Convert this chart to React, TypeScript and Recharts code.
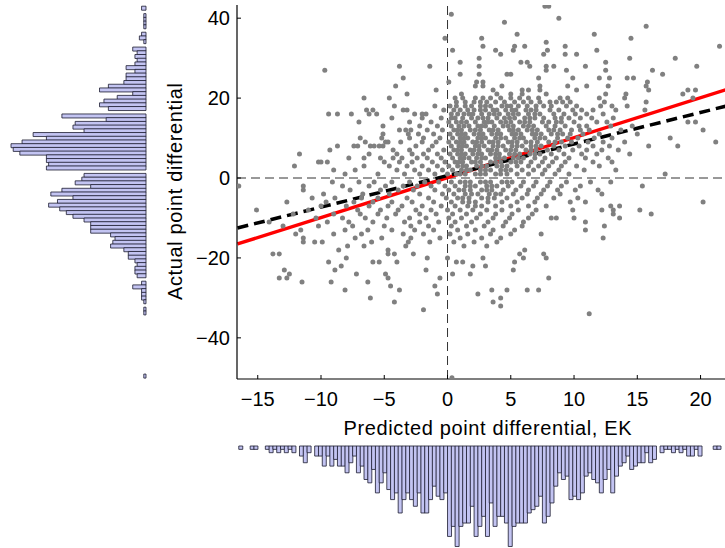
import { ScatterChart, Scatter, XAxis, YAxis, ReferenceLine, BarChart, Bar } from 'recharts'

// actual point differential (y) -> predicted values (x) of the games at that y
const scatterRows: [number, number[]][] = [
  [43, [7.7, 8.0]],
  [41, [0.3]],
  [40, [8.8]],
  [39, [4.5]],
  [38, [15.7]],
  [36, [5.5, 11.6]],
  [35, [-0.2, 2.7, 14.5]],
  [34, [7.8]],
  [33, [2.8, 5.3, 6.1, 9.3, 21.5]],
  [32, [0.4, 3.8, 5.2, 7.9, 11.8]],
  [31, [4.2, 7.6, 9.3, 10.2]],
  [30, [2.5, 14.4, 18.0]],
  [29, [1.0, 5.8, 6.3, 12.5]],
  [28, [-3.8, -1.4, 2.5, 6.5, 7.8, 8.4, 10.9, 19.7]],
  [27, [-9.7, 7.8, 9.4, 12.5, 16.2]],
  [26, [1.0, 2.5, 4.7, 5.0, 17.0]],
  [25, [-3.5, 7.2, 9.9, 12.0, 12.8, 14.2, 14.7]],
  [24, [0.1, 2.3, 2.8, 15.8]],
  [23, [-4.1, 2.2, 2.8, 4.3, 7.3, 9.5, 11.0, 12.7, 15.7]],
  [22, [-0.9, 3.6, 5.9, 6.4, 7.3, 10.2, 15.9, 19.0, 19.6]],
  [21, [-3.2, 1.1, 3.9, 5.0, 5.9, 7.8, 12.5, 14.1, 18.6]],
  [20, [-6.6, -4.6, 0.6, 1.2, 2.2, 2.8, 3.4, 4.2, 5.0, 5.7, 6.4, 7.2, 8.9, 9.5, 12.0, 14.0, 19.4]],
  [19, [0.7, 1.4, 2.1, 2.6, 3.1, 3.8, 4.5, 5.3, 6.0, 6.6, 7.3, 8.1, 8.6, 9.1, 9.7, 12.4, 15.7]],
  [18, [-4.2, -1.0, 0.2, 0.7, 1.4, 1.9, 2.6, 3.0, 3.4, 4.3, 4.7, 5.0, 5.6, 6.3, 7.0, 7.6, 8.2, 9.4, 10.2, 12.1, 13.0, 14.2]],
  [17, [-6.4, -5.9, -3.5, -3.2, -0.3, 0.5, 1.0, 1.6, 2.1, 2.6, 3.0, 3.6, 3.9, 4.6, 5.1, 5.4, 6.2, 6.6, 7.0, 8.1, 8.8, 9.9, 10.6, 11.5, 13.3, 15.6]],
  [16, [-9.4, -8.7, -7.6, -6.2, -5.6, -2.6, -2.0, -1.7, 0.3, 0.8, 1.3, 1.7, 2.0, 2.7, 3.3, 3.7, 4.1, 4.8, 5.2, 5.6, 6.4, 6.9, 7.3, 8.4, 9.2, 10.1, 11.0, 12.3]],
  [15, [-4.4, -2.0, -0.5, 0.3, 0.6, 1.2, 1.9, 2.4, 2.8, 3.2, 3.9, 4.5, 4.9, 5.3, 6.1, 6.5, 6.9, 7.6, 8.5, 9.0, 9.6, 10.5, 11.4, 13.1]],
  [14, [-7.0, -3.0, -1.3, 0.1, 0.7, 1.1, 1.5, 2.2, 2.9, 3.2, 3.5, 4.2, 4.6, 5.0, 5.7, 6.1, 6.5, 7.5, 8.0, 8.6, 9.0, 10.0, 11.8, 12.6, 19.0, 19.6]],
  [13, [-5.1, -2.2, -0.8, 0.3, 0.9, 1.3, 1.7, 2.4, 2.7, 3.0, 3.7, 4.4, 4.8, 5.2, 6.0, 6.4, 6.8, 7.8, 8.5, 9.3, 10.4, 11.0, 12.9, 14.6]],
  [12, [-3.8, -3.3, -2.9, -1.6, -0.4, 0.5, 0.8, 1.1, 1.8, 2.2, 2.6, 3.3, 3.6, 4.0, 4.9, 5.2, 5.6, 6.3, 6.7, 7.1, 8.0, 8.4, 8.9, 9.8, 10.5, 11.2, 13.7, 20.2]],
  [11, [-5.1, -3.1, -2.3, -1.1, 0.2, 0.8, 1.1, 1.4, 2.1, 2.5, 2.8, 3.5, 3.9, 4.2, 5.1, 5.4, 5.8, 6.7, 7.0, 7.4, 8.2, 8.7, 9.1, 9.7, 10.7, 12.0, 15.0]],
  [10, [-6.9, -5.2, -3.0, -1.9, -0.6, 0.4, 1.0, 1.3, 1.6, 2.4, 2.7, 3.0, 3.8, 4.2, 4.6, 5.3, 5.7, 6.0, 6.9, 7.3, 7.7, 8.7, 9.5, 10.3, 11.6, 13.0, 17.6]],
  [9, [-6.5, -4.9, -4.7, -3.7, -2.0, -0.9, 0.1, 0.7, 1.0, 1.3, 2.0, 2.3, 2.7, 3.3, 3.6, 4.0, 4.8, 5.1, 5.5, 6.2, 6.6, 7.1, 8.0, 8.5, 9.0, 9.8, 11.1, 12.3, 14.0, 21.2]],
  [8, [-8.7, -7.4, -7.1, -6.1, -5.8, -5.4, -5.1, -2.5, -1.2, 0.3, 0.9, 1.2, 1.5, 2.2, 2.5, 2.9, 3.6, 4.0, 4.4, 5.1, 5.5, 5.9, 6.6, 7.0, 7.4, 8.4, 9.3, 10.4, 11.5, 12.8, 15.9, 18.2]],
  [7, [-9.3, -4.3, -3.0, -1.5, -0.3, 0.5, 0.8, 1.1, 1.8, 2.1, 2.5, 3.2, 3.5, 3.9, 4.6, 5.0, 5.4, 6.2, 6.6, 7.0, 7.9, 8.8, 9.9, 11.0, 12.2, 13.5]],
  [6, [-11.7, -6.2, -4.0, -2.8, -1.9, -0.8, 0.2, 0.8, 1.1, 1.4, 2.0, 2.4, 2.7, 3.4, 3.8, 4.1, 4.9, 5.3, 5.7, 6.5, 6.9, 7.3, 8.2, 9.2, 10.6, 11.8, 14.4]],
  [5, [-7.8, -6.6, -5.3, -4.3, -3.6, -2.4, -1.6, -0.5, 0.4, 1.0, 1.3, 1.7, 2.3, 2.7, 3.0, 3.8, 4.1, 4.5, 5.2, 5.6, 6.0, 6.9, 7.7, 8.6, 9.6, 10.9, 12.7]],
  [4, [-10.2, -10.0, -9.5, -5.0, -3.8, -2.8, -1.2, -0.2, 0.6, 0.9, 1.2, 1.9, 2.2, 2.6, 3.4, 3.8, 4.2, 5.0, 5.4, 5.8, 6.6, 7.5, 8.3, 9.3, 11.5, 13.0]],
  [3, [-12.1, -6.6, -4.6, -3.2, -2.0, -0.8, 0.1, 0.8, 1.2, 1.5, 2.3, 2.7, 3.1, 3.9, 4.3, 4.7, 5.5, 6.4, 7.2, 8.0, 9.0, 10.2, 12.0]],
  [2, [-9.0, -7.3, -4.0, -2.6, -1.5, -0.4, 0.4, 1.1, 1.5, 1.8, 2.6, 3.0, 3.4, 4.2, 4.6, 5.0, 5.9, 6.8, 7.7, 8.8, 10.8, 13.3]],
  [1, [-8.1, -5.5, -3.4, -2.2, -1.0, 0.0, 0.7, 1.0, 1.4, 2.2, 2.6, 3.0, 3.8, 4.2, 4.7, 5.5, 6.4, 7.5, 8.5, 9.6, 17.2]],
  [-1, [-9.1, -7.0, -5.8, -4.4, -3.0, -1.8, -0.7, 0.3, 1.0, 1.4, 1.8, 2.6, 3.0, 3.4, 4.3, 4.7, 5.1, 6.0, 7.0, 8.1, 9.4, 11.3, 12.9]],
  [-2, [-16.5, -11.4, -8.3, -6.2, -4.9, -3.5, -2.4, -1.3, -0.2, 0.6, 1.4, 1.8, 2.2, 3.1, 3.5, 3.9, 4.8, 5.8, 6.8, 7.9, 9.0, 10.5, 15.4]],
  [-3, [-11.4, -7.7, -5.3, -3.9, -2.7, -1.0, 0.1, 0.9, 1.3, 1.8, 2.7, 3.1, 3.5, 4.4, 5.4, 6.4, 7.6, 8.7, 10.1, 11.9]],
  [-4, [-9.8, -6.7, -4.6, -2.2, -0.4, 0.5, 1.4, 1.9, 2.4, 3.3, 3.8, 4.2, 5.2, 6.3, 7.4, 8.9, 12.2]],
  [-5, [-10.7, -8.9, -6.8, -5.5, -3.2, -1.5, -0.1, 0.8, 1.2, 1.7, 2.7, 3.2, 3.7, 4.7, 5.9, 7.1, 8.4, 10.3]],
  [-6, [-12.7, -9.6, -7.4, -5.9, -4.4, -2.8, -1.1, 0.3, 1.2, 1.7, 2.2, 3.2, 4.3, 5.5, 6.9, 9.7, 10.9, 20.2]],
  [-7, [-10.0, -8.0, -6.2, -4.7, -3.6, -2.0, -0.5, 0.6, 1.6, 2.2, 2.7, 3.8, 5.0, 6.4, 7.8, 12.9, 13.6]],
  [-8, [-15.1, -11.0, -7.1, -5.3, -3.9, -2.5, -1.3, 0.0, 1.0, 2.0, 3.1, 4.3, 5.6, 7.0, 9.9, 12.2, 13.1, 15.2]],
  [-9, [-12.2, -9.0, -6.9, -5.5, -4.1, -2.2, -0.9, 0.4, 1.5, 2.6, 3.8, 5.1, 6.7, 13.1, 16.1]],
  [-10, [-10.4, -8.3, -6.5, -4.8, -3.0, -1.7, 0.1, 1.1, 2.3, 3.6, 4.9, 6.4, 8.2, 8.6, 10.0, 13.6]],
  [-11, [-14.1, -9.5, -7.8, -5.9, -3.4, -2.2, -0.7, 0.6, 1.9, 3.2, 4.6, 6.0, 10.9]],
  [-12, [-13.0, -10.2, -7.5, -5.0, -2.9, -1.5, 0.3, 1.5, 2.9, 4.4, 5.9, 12.4]],
  [-13, [-11.6, -8.1, -6.3, -4.4, -2.6, -1.1, 0.8, 2.2, 3.6, 5.3, 10.9]],
  [-14, [-12.0, -9.0, -6.8, -3.5, -1.9, 0.2, 1.6, 3.4, 5.0, 7.4]],
  [-15, [-11.4, -7.3, -5.2, -2.9, -0.6, 1.0, 2.7, 4.2, 12.3]],
  [-16, [-11.4, -10.5, -9.9, -6.0, -3.1, -1.4, 0.5, 2.1, 3.9]],
  [-17, [-7.9, -6.6, -3.3, 1.3, 3.1]],
  [-18, [-8.6, -4.7, 6.1]],
  [-19, [-13.8, -13.3, -4.7, -4.2, -2.7, 5.7, 7.6]],
  [-20, [-8.0, -1.6, 0.0, 2.8, 6.0, 7.8]],
  [-21, [-9.4, -5.9, -5.4, -4.0, 0.7, 1.2, 5.3]],
  [-22, [-8.4, 2.0, 3.0]],
  [-23, [-12.9, -8.9, -1.7, 5.2]],
  [-24, [-12.5, -7.2, -4.9, 0.4, 1.8]],
  [-25, [-13.3, -12.7, -4.7, -0.6, 8.0]],
  [-26, [-11.5, -9.2, -6.3]],
  [-27, [-4.5, -1.0]],
  [-28, [-8.1, -3.8, 3.5, 4.7, 6.3, 7.2]],
  [-29, [-0.8, 2.4]],
  [-30, [-6.1, 4.2]],
  [-31, [-4.2, 3.6]],
  [-32, [4.2]],
  [-33, [-1.9]],
  [-34, [11.2]],
  [-50, [0.35]],
]

// fitted lines, end points
const fitX = [-16.6, 22.9]
const redFitY = [-16.5, 23.0]
const blackFitY = [-12.5, 18.7]

const xTicks = [-15, -10, -5, 0, 5, 10, 15, 20]
const yTicks = [-40, -20, 0, 20, 40]
const xDomain: [number, number] = [-16.64, 22.96]
const yDomain: [number, number] = [-50.3, 43.3]

// histogram of predicted differential (bottom), 127 bins from -16.5
const predBinStart = -16.5
const predBinWidth = 0.3
const predCounts = [
  1, 0, 0, 1, 1, 0, 0, 1, 2, 1,
  2, 1, 2, 1, 2, 0, 3, 5, 2, 0,
  3, 3, 6, 3, 6, 4, 6, 6, 8, 5,
  3, 8, 6, 10, 11, 7, 14, 11, 8, 13,
  16, 14, 20, 16, 14, 16, 18, 14, 20, 20,
  16, 12, 15, 16, 14,
  27, 24, 30, 24, 23, 23, 18, 27, 24, 21,
  27, 17, 24, 21, 21, 23, 30, 24, 23, 23,
  23, 20, 19, 18, 15, 23, 21, 17, 12, 8,
  10, 9, 16, 15, 16, 14, 9, 8, 10, 11,
  14, 10, 7, 14, 9, 6, 5, 3, 7, 6,
  5, 5, 2, 5, 4, 0, 2, 1, 1, 2,
  1, 2, 1, 3, 3, 1, 3, 0, 0, 0,
  1, 1,
]

// histogram of actual differential (left), 100 bins from 43 down to -50
const actualBinTop = 43
const actualBinBottom = -50
const actualCountsTopDown = [
  2, 0, 1, 1, 1, 1, 0, 2, 3, 1,
  0, 6, 4, 5, 4, 5, 9, 5, 9, 9,
  10, 17, 21, 6, 13, 19, 21, 17, 0, 38,
  18, 32, 33, 28, 51, 45, 56, 61, 60, 57,
  45, 45, 44, 45, 0, 28, 29, 32, 25, 38,
  43, 33, 40, 44, 39, 36, 33, 28, 25, 25,
  25, 16, 14, 15, 16, 10, 8, 8, 5, 4,
  5, 5, 4, 0, 2, 6, 2, 2, 2, 1,
  0, 1, 1, 0, 0, 0, 0, 0, 0, 0,
  0, 0, 0, 0, 0, 0, 0, 0, 0, 1,
]

const font = '"Liberation Sans", Arial, Helvetica, sans-serif'
const minus = (v: number) => (v < 0 ? '\u2212' + Math.abs(v) : String(v))

const points = scatterRows.flatMap(([y, xs]) => xs.map(x => ({ x, y })))
const predData = predCounts.map((count, i) => ({ x: predBinStart + (i + 0.5) * predBinWidth, count }))
const actualBinWidth = (actualBinTop - actualBinBottom) / actualCountsTopDown.length
const actualData = actualCountsTopDown.map((count, i) => ({ y: actualBinTop - (i + 0.5) * actualBinWidth, count }))

const barFill = '#c3c4f2'
const barStroke = '#1a1a2e'

export default function App() {
  return (
    <div style={{ position: 'absolute', left: 0, top: 0, width: 725, height: 548, overflow: 'hidden', background: '#fff' }}>
      {/* main scatter */}
      <div style={{ position: 'absolute', left: 0, top: 0 }}>
        <ScatterChart width={760} height={445} margin={{ top: 5, right: 22, bottom: 0, left: 0 }}>
          <XAxis
            xAxisId="b"
            type="number"
            dataKey="x"
            domain={xDomain}
            ticks={xTicks}
            allowDataOverflow
            height={66}
            tickFormatter={minus}
            tickSize={-4}
            tickMargin={17}
            tick={{ fontSize: 20, fill: '#000', fontFamily: font }}
            tickLine={{ stroke: '#000' }}
            axisLine={{ stroke: '#000', strokeWidth: 1.2 }}
          />
          <XAxis
            xAxisId="t"
            orientation="top"
            type="number"
            dataKey="x"
            domain={xDomain}
            ticks={xTicks}
            allowDataOverflow
            height={0}
            tick={false}
            tickSize={-4}
            tickLine={{ stroke: '#000' }}
            axisLine={{ stroke: '#000', strokeWidth: 1.2 }}
          />
          <YAxis
            type="number"
            dataKey="y"
            domain={yDomain}
            ticks={yTicks}
            allowDataOverflow
            width={237}
            tickFormatter={minus}
            tickSize={-4}
            tickMargin={11}
            tick={{ fontSize: 20, fill: '#000', fontFamily: font }}
            tickLine={{ stroke: '#000' }}
            axisLine={{ stroke: '#000', strokeWidth: 1.2 }}
          />
          <Scatter
            xAxisId="b"
            data={points}
            isAnimationActive={false}
            shape={(p: any) => <circle cx={p.cx} cy={p.cy} r={2.5} fill="#808080" />}
          />
          <ReferenceLine xAxisId="b" x={0} stroke="#333" strokeDasharray="9 5" />
          <ReferenceLine xAxisId="b" y={0} stroke="#333" strokeDasharray="9 5" />
          <ReferenceLine
            xAxisId="b"
            ifOverflow="visible"
            segment={[{ x: fitX[0], y: redFitY[0] }, { x: fitX[1], y: redFitY[1] }]}
            stroke="#ff0000"
            strokeWidth={3.5}
          />
          <ReferenceLine
            xAxisId="b"
            ifOverflow="visible"
            segment={[{ x: fitX[0], y: blackFitY[0] }, { x: fitX[1], y: blackFitY[1] }]}
            stroke="#000"
            strokeWidth={3.5}
            strokeDasharray="11 6"
          />
        </ScatterChart>
      </div>

      {/* left histogram of actual differential */}
      <div style={{ position: 'absolute', left: 0, top: 0 }}>
        <BarChart
          layout="vertical"
          width={160}
          height={390}
          data={actualData}
          barCategoryGap={0}
          barGap={0}
          margin={{ top: 5, right: 14, bottom: 11, left: 11 }}
        >
          <XAxis type="number" domain={[0, 61]} reversed hide />
          <YAxis
            type="number"
            dataKey="y"
            domain={yDomain}
            reversed
            allowDataOverflow
            orientation="right"
            width={0}
            tick={false}
            tickLine={false}
            axisLine={{ stroke: '#000', strokeWidth: 1.3 }}
          />
          <Bar dataKey="count" fill={barFill} stroke={barStroke} strokeWidth={0.8} isAnimationActive={false} />
        </BarChart>
      </div>

      {/* bottom histogram of predicted differential */}
      <div style={{ position: 'absolute', left: 0, top: 440 }}>
        <BarChart
          width={760}
          height={108}
          data={predData}
          barCategoryGap={0}
          barGap={0}
          margin={{ top: 6, right: 22, bottom: 0, left: 237 }}
        >
          <XAxis
            type="number"
            dataKey="x"
            domain={xDomain}
            allowDataOverflow
            orientation="top"
            height={0}
            tick={false}
            tickLine={false}
            axisLine={{ stroke: '#000', strokeWidth: 1.5 }}
          />
          <YAxis type="number" domain={[0, 30.45]} reversed hide />
          <Bar dataKey="count" fill={barFill} stroke={barStroke} strokeWidth={0.8} isAnimationActive={false} />
        </BarChart>
      </div>

      {/* axis titles */}
      <svg width={725} height={548} style={{ position: 'absolute', left: 0, top: 0, pointerEvents: 'none' }}>
        <text x={487.5} y={435} textAnchor="middle" fontSize={20} fontFamily={font} fill="#000" textLength={288} lengthAdjust="spacing">
          Predicted point differential, EK
        </text>
        <text
          x={182}
          y={191.5}
          transform="rotate(-90 182 191.5)"
          textAnchor="middle"
          fontSize={20}
          fontFamily={font}
          fill="#000"
          textLength={217}
          lengthAdjust="spacing"
        >
          Actual point differential
        </text>
      </svg>
    </div>
  )
}
